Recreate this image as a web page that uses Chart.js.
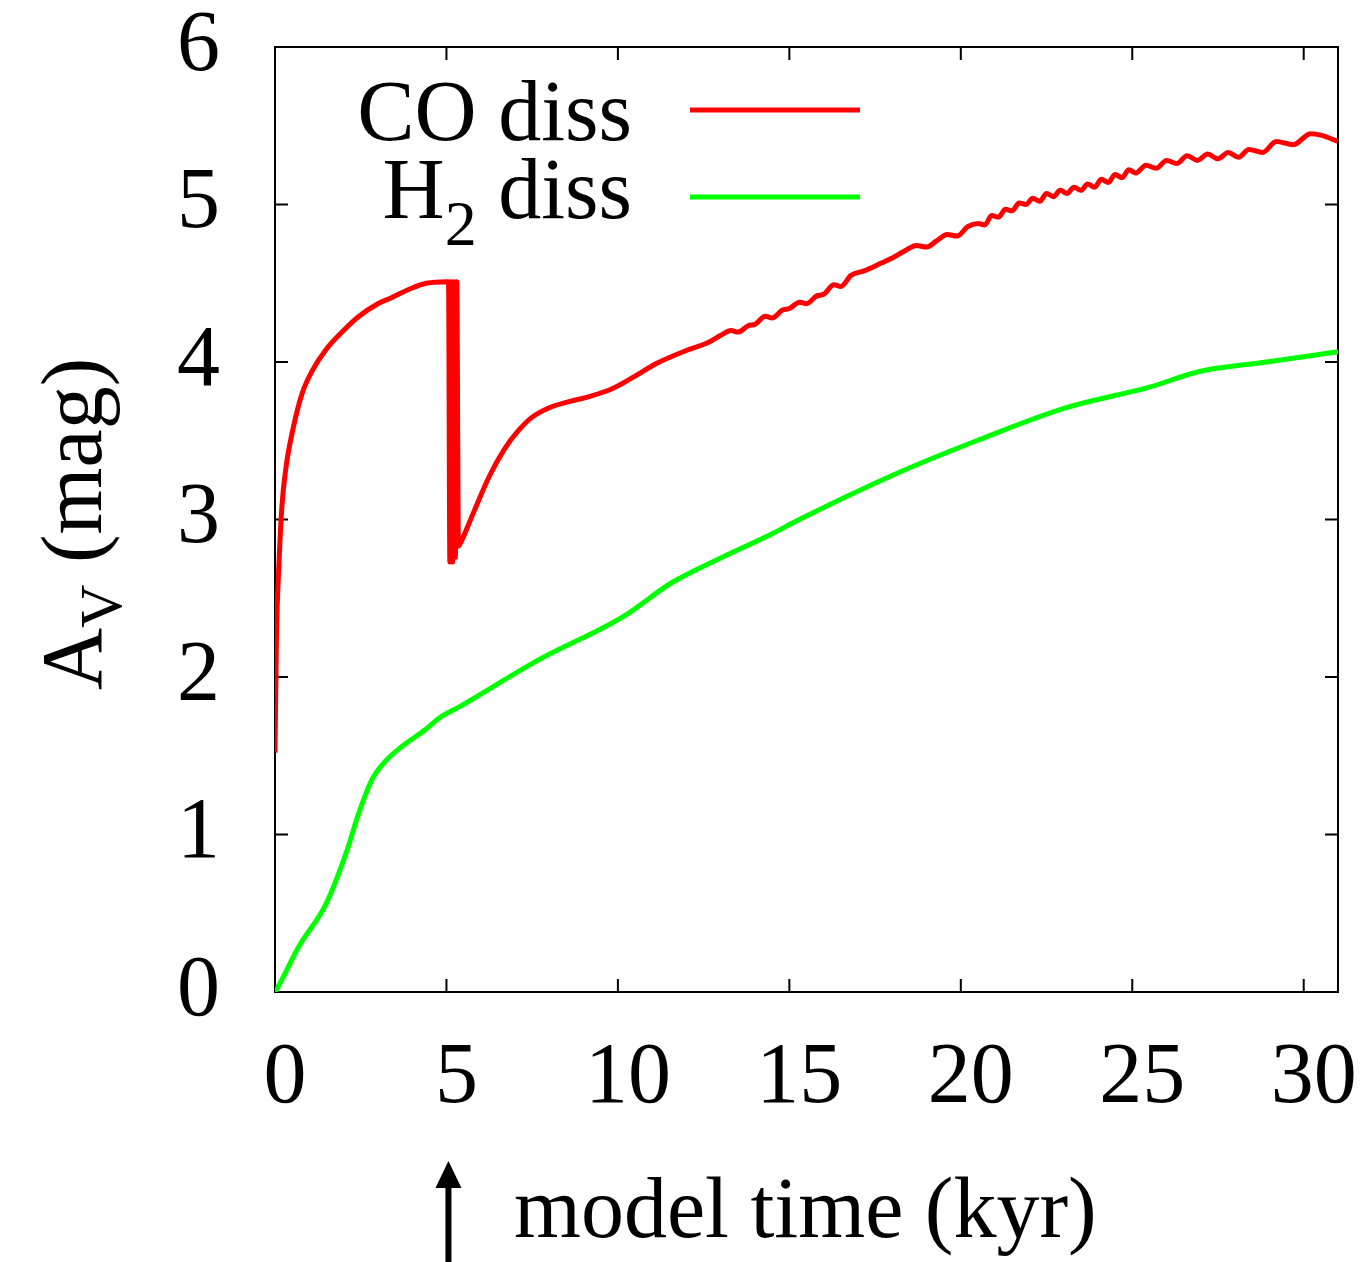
<!doctype html>
<html lang="en">
  <head>
    <meta charset="utf-8">
    <title>A_V versus model time</title>
    <style>
      * { margin: 0; padding: 0; }
      body { background: white; }
      canvas { display: block; }
    </style>
  </head>
  <body>
    <canvas id="myChart" width="1367" height="1262"></canvas>
    <script src="https://cdn.jsdelivr.net/npm/chart.js/dist/chart.umd.min.js"></script>
    <script>
    // data (time in kyr, A_V in mag)
    const coTime = [0, 0.04, 0.12, 0.2, 0.32, 0.5, 0.79, 1.1, 1.49, 2.0, 2.45, 3.0, 3.41, 4.0, 4.41, 5.02,
      5.06, 5.10, 5.14, 5.18, 5.22, 5.26, 5.30, 5.35, 5.43, 5.8, 6.24, 6.7, 7.12, 7.5, 8.0, 8.6, 9.16, 9.83, 10.5, 11.12, 12.08, 12.6,
      13.0, 13.3, 13.5, 13.8, 14.0, 14.3, 14.5, 14.8, 15.0, 15.3, 15.5, 15.8, 16.0, 16.3, 16.5, 16.8, 17.2, 17.7,
      18.0, 18.4, 18.7, 19.0, 19.3, 19.6, 19.9, 20.2, 20.5, 20.7, 20.9, 21.1, 21.3, 21.5, 21.7, 21.9, 22.1, 22.3,
      22.5, 22.7, 22.9, 23.1, 23.3, 23.5, 23.7, 23.9, 24.1, 24.3, 24.5, 24.7, 24.9, 25.1, 25.4, 25.7, 26.0, 26.3,
      26.6, 26.9, 27.2, 27.5, 27.8, 28.1, 28.4, 28.8, 29.2, 29.7, 30.2, 30.5, 31.0];
    const coAv = [1.52, 2.23, 2.74, 3.08, 3.33, 3.55, 3.80, 3.95, 4.08, 4.20, 4.29, 4.37, 4.41, 4.47, 4.50, 4.51,
      4.51, 2.73, 4.51, 2.73, 4.51, 2.76, 4.51, 2.83, 2.86, 3.05, 3.27, 3.45, 3.57, 3.65, 3.71, 3.75, 3.78, 3.83, 3.91, 3.99, 4.08, 4.12,
      4.17, 4.20, 4.19, 4.23, 4.24, 4.29, 4.28, 4.33, 4.34, 4.38, 4.37, 4.42, 4.43, 4.49, 4.48, 4.55, 4.58, 4.63,
      4.66, 4.71, 4.74, 4.73, 4.77, 4.81, 4.80, 4.86, 4.88, 4.87, 4.93, 4.92, 4.97, 4.96, 5.01, 5.00, 5.04, 5.02,
      5.07, 5.05, 5.09, 5.07, 5.11, 5.09, 5.13, 5.11, 5.16, 5.14, 5.19, 5.17, 5.22, 5.20, 5.25, 5.23, 5.28, 5.26,
      5.31, 5.28, 5.32, 5.29, 5.33, 5.30, 5.35, 5.33, 5.40, 5.38, 5.45, 5.44, 5.40];

    const h2Time = [0, 0.03, 0.7, 1.49, 2.07, 2.45, 2.83, 3.24, 3.71, 4.41, 4.79, 5.37, 7.7, 10.13, 11.58, 13.04,
      14.5, 15.29, 18.21, 20.46, 23.08, 25.5, 26.96, 28.92, 30.84, 31.0];
    const h2Av = [0, 0.01, 0.29, 0.56, 0.88, 1.14, 1.35, 1.47, 1.56, 1.67, 1.74, 1.81, 2.11, 2.38, 2.60, 2.76,
      2.91, 3.0, 3.30, 3.50, 3.71, 3.84, 3.94, 4.00, 4.06, 4.065];

    const xTicks = [0, 5, 10, 15, 20, 25, 30];
    const yTicks = [0, 1, 2, 3, 4, 5, 6];

    const FONT = "'Liberation Serif', 'DejaVu Serif', serif";
    const RED = '#ff0000';
    const GREEN = '#00ff00';

    const toPoints = (xs, ys) => xs.map((x, i) => ({ x: x, y: ys[i] }));

    // frame with inward ticks on all four sides
    const framePlugin = {
      id: 'frame',
      beforeDatasetsDraw(chart) {
        const { ctx, chartArea: a, scales } = chart;
        ctx.save();
        ctx.strokeStyle = '#000';
        ctx.lineWidth = 2;
        ctx.strokeRect(a.left, a.top, a.right - a.left, a.bottom - a.top);
        const len = 13;
        ctx.beginPath();
        xTicks.forEach(v => {
          const px = scales.x.getPixelForValue(v);
          ctx.moveTo(px, a.bottom); ctx.lineTo(px, a.bottom - len);
          ctx.moveTo(px, a.top); ctx.lineTo(px, a.top + len);
        });
        yTicks.forEach(v => {
          const py = scales.y.getPixelForValue(v);
          ctx.moveTo(a.left, py); ctx.lineTo(a.left + len, py);
          ctx.moveTo(a.right, py); ctx.lineTo(a.right - len, py);
        });
        ctx.stroke();
        ctx.restore();
      }
    };

    // draws pieces [text, size, baseline shift] one after another
    function drawParts(ctx, parts, x, y) {
      let cx = x;
      parts.forEach(p => {
        ctx.font = p[1] + 'px ' + FONT;
        ctx.fillText(p[0], cx, y + p[2]);
        cx += ctx.measureText(p[0]).width;
      });
    }
    function partsWidth(ctx, parts) {
      let w = 0;
      parts.forEach(p => {
        ctx.font = p[1] + 'px ' + FONT;
        w += ctx.measureText(p[0]).width;
      });
      return w;
    }

    const labelsPlugin = {
      id: 'labels',
      afterDraw(chart) {
        const ctx = chart.ctx;
        ctx.save();
        ctx.fillStyle = '#000';
        ctx.textAlign = 'left';
        ctx.textBaseline = 'alphabetic';

        // legend
        const rows = [
          { parts: [['CO diss', 86, 0]], color: RED, base: 140, lineY: 110 },
          { parts: [['H', 86, 0], ['2', 64, 27], [' diss', 86, 0]], color: GREEN, base: 218, lineY: 197 }
        ];
        rows.forEach(r => {
          ctx.fillStyle = '#000';
          drawParts(ctx, r.parts, 632 - partsWidth(ctx, r.parts), r.base);
          ctx.strokeStyle = r.color;
          ctx.lineWidth = 5;
          ctx.beginPath();
          ctx.moveTo(690, r.lineY);
          ctx.lineTo(860, r.lineY);
          ctx.stroke();
        });

        // x title
        ctx.fillStyle = '#000';
        drawParts(ctx, [['model time (kyr)', 86, 0]], 514, 1237);

        // y title, rotated
        ctx.save();
        ctx.translate(101, 690);
        ctx.rotate(-Math.PI / 2);
        drawParts(ctx, [['A', 86, 0], ['V', 60, 20], [' (mag)', 86, 0]], 0, 0);
        ctx.restore();

        // arrow under x = 5
        const ax = chart.scales.x.getPixelForValue(5) + 2;
        ctx.strokeStyle = '#000';
        ctx.lineWidth = 6;
        ctx.beginPath();
        ctx.moveTo(ax, 1262);
        ctx.lineTo(ax, 1184);
        ctx.stroke();
        ctx.beginPath();
        ctx.moveTo(ax, 1161);
        ctx.lineTo(ax - 13, 1188);
        ctx.lineTo(ax + 13, 1188);
        ctx.closePath();
        ctx.fill();
        ctx.restore();
      }
    };

    // no automatic room for overhanging tick labels
    const noPad = s => { s.paddingTop = 0; s.paddingBottom = 0; s.paddingLeft = 0; s.paddingRight = 0; };

    const data = {
      datasets: [{
        label: 'CO diss',
        data: toPoints(coTime, coAv),
        borderColor: RED,
        borderWidth: 5,
        pointRadius: 0,
        cubicInterpolationMode: 'monotone'
      }, {
        label: 'H2 diss',
        data: toPoints(h2Time, h2Av),
        borderColor: GREEN,
        borderWidth: 5,
        pointRadius: 0,
        cubicInterpolationMode: 'monotone'
      }]
    };

    const config = {
      type: 'line',
      data,
      options: {
        responsive: false,
        animation: false,
        layout: { padding: { top: 47, right: 29, left: 0, bottom: 0 } },
        plugins: {
          legend: { display: false },
          tooltip: { enabled: false }
        },
        scales: {
          x: {
            type: 'linear',
            min: 0,
            max: 31,
            afterBuildTicks: s => { s.ticks = xTicks.map(v => ({ value: v })); },
            afterFit: s => { s.height = 270; noPad(s); },
            grid: { display: false, drawTicks: false },
            border: { display: false },
            ticks: {
              color: '#000',
              padding: 36,
              labelOffset: 10,
              maxRotation: 0,
              autoSkip: false,
              font: { family: FONT, size: 86, lineHeight: 1.2 }
            }
          },
          y: {
            min: 0,
            max: 6,
            afterBuildTicks: s => { s.ticks = yTicks.map(v => ({ value: v })); },
            afterFit: s => { s.width = 275; noPad(s); },
            grid: { display: false, drawTicks: false },
            border: { display: false },
            ticks: {
              color: '#000',
              padding: 55,
              autoSkip: false,
              font: { family: FONT, size: 86, lineHeight: 1.2 }
            }
          }
        }
      },
      plugins: [framePlugin, labelsPlugin]
    };

    const myChart = new Chart(document.getElementById('myChart'), config);
    </script>
  </body>
</html>
